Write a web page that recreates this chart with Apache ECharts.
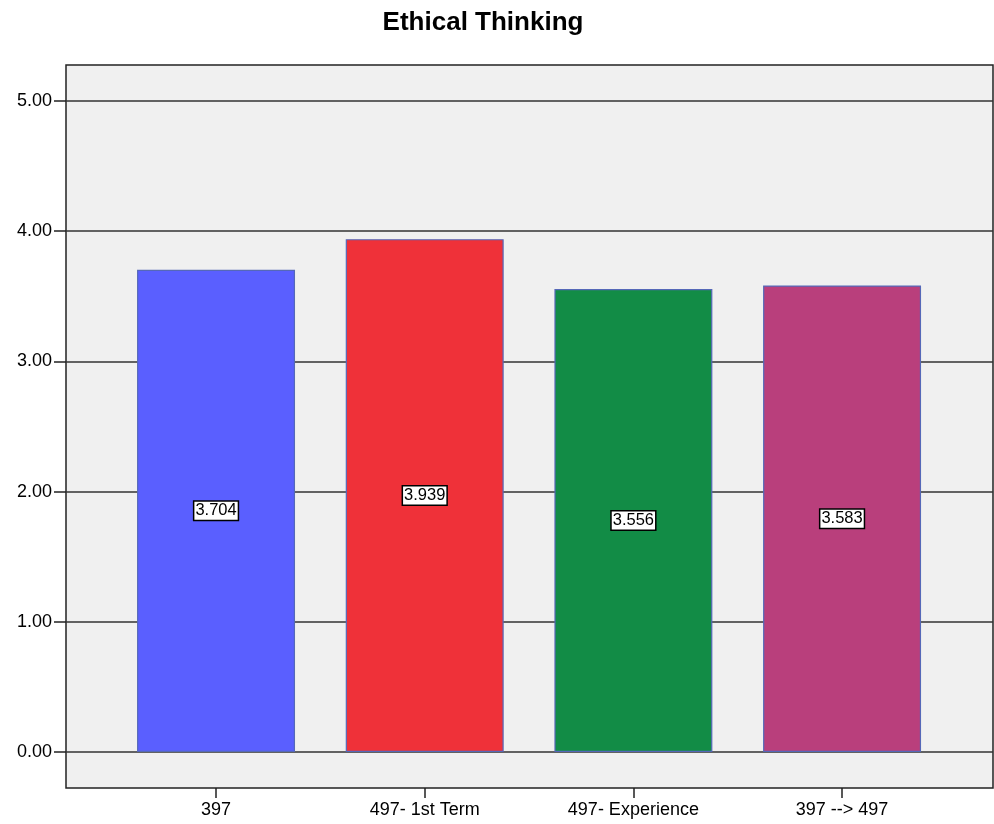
<!DOCTYPE html>
<html><head><meta charset="utf-8">
<script src="https://cdn.jsdelivr.net/npm/echarts@6/dist/echarts.min.js"></script>
<style>html,body{margin:0;padding:0;background:#fff}#c{width:994px;height:824px}</style>
</head><body><div id="c"></div>
<script>
var titleText = 'Ethical Thinking';
var categories = ['397', '497- 1st Term', '497- Experience', '397 --> 497'];
var values = [3.704, 3.939, 3.556, 3.583];
var barColors = ['#5a5fff', '#ef3139', '#128c46', '#b93f7c'];
var yMin = 0, yMax = 5, yStep = 1;

var chart = echarts.init(document.getElementById('c'), null, {renderer: 'canvas'});
var font = 'Liberation Sans, Arial, sans-serif';
chart.setOption({
  animation: false,
  title: {text: titleText, left: 478, top: 5, textAlign: 'center',
    textStyle: {fontFamily: font, fontSize: 26, fontWeight: 'bold', color: '#000'}},
  grid: [
    {left: 66, right: 1, top: 65, bottom: 36, show: true, backgroundColor: '#f0f0f0', borderColor: '#222', borderWidth: 1.5, z: 0},
    {left: 66, right: 1, top: 101, bottom: 72},
    {left: 111.7, right: 47.6, top: 101, bottom: 36}
  ],
  xAxis: [
    {gridIndex: 0, type: 'value', show: false},
    {gridIndex: 1, type: 'value', show: false},
    {gridIndex: 2, type: 'category', data: categories,
     axisLine: {show: false, onZero: false},
     axisTick: {show: true, alignWithLabel: true, length: 10, lineStyle: {color: '#222', width: 1.5}},
     axisLabel: {fontFamily: font, fontSize: 18, color: '#000', margin: 13}}
  ],
  yAxis: [
    {gridIndex: 0, type: 'value', show: false},
    {gridIndex: 1, type: 'value', min: yMin, max: yMax, interval: yStep,
     axisLine: {show: false},
     axisTick: {show: true, length: 12, lineStyle: {color: '#222', width: 1.5}},
     axisLabel: {fontFamily: font, fontSize: 18, color: '#000', margin: 14,
       formatter: function (v) { return v.toFixed(2); }},
     splitLine: {show: true, lineStyle: {color: '#333', width: 1.5}}},
    {gridIndex: 2, type: 'value', min: -0.2765, max: yMax, show: false}
  ],
  series: [{
    type: 'bar', xAxisIndex: 2, yAxisIndex: 2, barWidth: '75.7%', z: 5,
    data: values.map(function (v, i) {
      return {value: v, itemStyle: {color: barColors[i]}};
    }),
    itemStyle: {borderColor: '#5568b8', borderWidth: 1.2},
    label: {show: true, position: 'inside', fontFamily: font, fontSize: 16.5, color: '#000',
      backgroundColor: '#fff', borderColor: '#000', borderWidth: 1.5, padding: [1, 1, 0, 1],
      formatter: function (p) { return p.value.toFixed(3); }}
  }]
});
</script></body></html>
